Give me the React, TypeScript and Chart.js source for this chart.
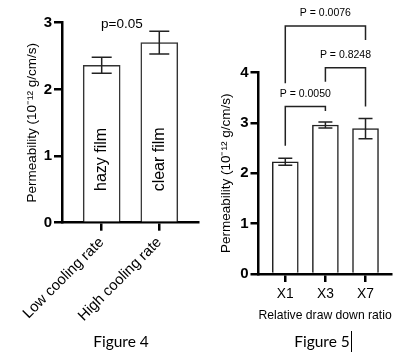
import React, { useEffect, useRef } from 'react';
import { Chart, registerables } from 'chart.js';

Chart.register(...registerables);
Chart.defaults.font.family = "'Liberation Sans', Arial, sans-serif";
Chart.defaults.color = '#000';

// ---------- Figure 4 data ----------
const fig4Categories = ['Low cooling rate', 'High cooling rate'];
const fig4Means = [2.36, 2.70];
const fig4Errors = [0.12, 0.17];
const fig4BarLabels = ['hazy film', 'clear film'];
const fig4YTicks = [0, 1, 2, 3];
const fig4PLabel = 'p=0.05';
const fig4PLabelX = 1.35; // in x data units
const fig4PLabelY = 2.98; // in y data units
const fig4BarLabelY = 0.95;

// ---------- Figure 5 data ----------
const fig5Categories = ['X1', 'X3', 'X7'];
const fig5Means = [2.23, 2.96, 2.89];
const fig5Errors = [0.07, 0.06, 0.2];
const fig5YTicks = [0, 1, 2, 3, 4];
const fig5BracketFrom = [0, 1, 0];
const fig5BracketTo = [1, 2, 2];
const fig5BracketLabels = ['P = 0.0050', 'P = 0.8248', 'P = 0.0076'];
const fig5BracketLevels = [3.33, 4.1, 4.93];
const fig5BracketLeftEnds = [2.55, 3.82, 3.79];
const fig5BracketRightEnds = [3.24, 3.33, 4.65];

const FONT = "'Liberation Sans', Arial, sans-serif";

function errorBarPlugin(errors: number[], cap: number) {
  return {
    id: 'errorBars',
    afterDatasetsDraw(chart: any) {
      const ctx = chart.ctx;
      const xs = chart.scales.x;
      const ys = chart.scales.y;
      const pts = chart.data.datasets[0].data as { x: number; y: number }[];
      ctx.save();
      ctx.strokeStyle = '#222';
      ctx.lineWidth = 1.5;
      pts.forEach((p, i) => {
        const x = xs.getPixelForValue(p.x);
        const yTop = ys.getPixelForValue(p.y + errors[i]);
        const yBot = ys.getPixelForValue(p.y - errors[i]);
        ctx.beginPath();
        ctx.moveTo(x, yTop);
        ctx.lineTo(x, yBot);
        ctx.moveTo(x - cap, yTop);
        ctx.lineTo(x + cap, yTop);
        ctx.moveTo(x - cap, yBot);
        ctx.lineTo(x + cap, yBot);
        ctx.stroke();
      });
      ctx.restore();
    },
  };
}

const fig4TextPlugin = {
  id: 'fig4Text',
  afterDraw(chart: any) {
    const ctx = chart.ctx;
    const xs = chart.scales.x;
    const ys = chart.scales.y;
    ctx.save();
    ctx.fillStyle = '#000';
    ctx.font = `13.5px ${FONT}`;
    ctx.textAlign = 'center';
    ctx.textBaseline = 'middle';
    ctx.fillText(fig4PLabel, xs.getPixelForValue(fig4PLabelX), ys.getPixelForValue(fig4PLabelY));
    ctx.font = `16px ${FONT}`;
    fig4BarLabels.forEach((t, i) => {
      ctx.save();
      ctx.translate(xs.getPixelForValue(i + 1), ys.getPixelForValue(fig4BarLabelY));
      ctx.rotate(-Math.PI / 2);
      ctx.fillText(t, 0, 0);
      ctx.restore();
    });
    ctx.restore();
  },
};

const fig5BracketPlugin = {
  id: 'fig5Brackets',
  afterDraw(chart: any) {
    const ctx = chart.ctx;
    const xs = chart.scales.x;
    const ys = chart.scales.y;
    ctx.save();
    ctx.strokeStyle = '#222';
    ctx.lineWidth = 1.5;
    ctx.fillStyle = '#000';
    ctx.font = `10.5px ${FONT}`;
    ctx.textAlign = 'center';
    ctx.textBaseline = 'middle';
    fig5BracketLabels.forEach((label, i) => {
      const x1 = xs.getPixelForValue(fig5BracketFrom[i] + 1);
      const x2 = xs.getPixelForValue(fig5BracketTo[i] + 1);
      const yl = ys.getPixelForValue(fig5BracketLevels[i]);
      ctx.beginPath();
      ctx.moveTo(x1, ys.getPixelForValue(fig5BracketLeftEnds[i]));
      ctx.lineTo(x1, yl);
      ctx.lineTo(x2, yl);
      ctx.lineTo(x2, ys.getPixelForValue(fig5BracketRightEnds[i]));
      ctx.stroke();
      ctx.fillText(label, (x1 + x2) / 2, yl - 12.4);
    });
    ctx.restore();
  },
};

const axisCommon = {
  grid: { display: true, drawOnChartArea: false, drawTicks: true, tickLength: 8, color: '#000', lineWidth: 2.5, offset: false },
  border: { display: true, color: '#000', width: 2.5 },
};

export default function App() {
  const ref4 = useRef<HTMLCanvasElement>(null);
  const ref5 = useRef<HTMLCanvasElement>(null);

  useEffect(() => {
    const c4 = new Chart(ref4.current as HTMLCanvasElement, {
      type: 'bar',
      data: {
        datasets: [
          {
            data: fig4Categories.map((_, i) => ({ x: i + 1, y: fig4Means[i] })),
            backgroundColor: '#fff',
            borderColor: '#333',
            borderWidth: 1.5,
            barThickness: 37,
          } as any,
        ],
      },
      options: {
        animation: false,
        responsive: false,
        devicePixelRatio: 1,
        layout: { padding: { top: 22.7, right: 11, left: 0, bottom: 0 } },
        plugins: { legend: { display: false }, tooltip: { enabled: false } },
        scales: {
          x: {
            type: 'linear',
            min: 0.311,
            max: 2.672,
            offset: false,
            afterBuildTicks: (s: any) => {
              s.ticks = fig4Categories.map((_, i) => ({ value: i + 1 }));
            },
            afterFit: (s: any) => {
              s.height = 140.3;
            },
            ticks: {
              autoSkip: false,
              minRotation: 45,
              maxRotation: 45,
              padding: 3,
              color: '#000',
              font: { size: 14.8 },
              callback: (v: any) => fig4Categories[Number(v) - 1] ?? '',
            },
            ...axisCommon,
          },
          y: {
            min: 0,
            max: 3,
            afterBuildTicks: (s: any) => {
              s.ticks = fig4YTicks.map((v) => ({ value: v }));
            },
            afterFit: (s: any) => {
              s.width = 62;
            },
            ticks: { padding: 2, color: '#000', font: { size: 15, weight: 'bold' } },
            title: {
              display: true,
              text: 'Permeability (10\u207B\u00B9\u00B2 g/cm/s)',
              color: '#000',
              font: { size: 13.5 },
              padding: { top: 24.4, bottom: 0 },
            },
            ...axisCommon,
          },
        },
      } as any,
      plugins: [errorBarPlugin(fig4Errors, 10), fig4TextPlugin],
    });

    const c5 = new Chart(ref5.current as HTMLCanvasElement, {
      type: 'bar',
      data: {
        datasets: [
          {
            data: fig5Categories.map((_, i) => ({ x: i + 1, y: fig5Means[i] })),
            backgroundColor: '#fff',
            borderColor: '#222',
            borderWidth: 1.5,
            barThickness: 26,
          } as any,
        ],
      },
      options: {
        animation: false,
        responsive: false,
        devicePixelRatio: 1,
        layout: { padding: { top: 72.7, right: 26.3, left: 0, bottom: 0 } },
        plugins: { legend: { display: false }, tooltip: { enabled: false } },
        scales: {
          x: {
            type: 'linear',
            min: 0.332,
            max: 3.653,
            offset: false,
            afterBuildTicks: (s: any) => {
              s.ticks = fig5Categories.map((_, i) => ({ value: i + 1 }));
            },
            afterFit: (s: any) => {
              s.height = 89;
            },
            ticks: {
              autoSkip: false,
              maxRotation: 0,
              minRotation: 0,
              padding: 4,
              color: '#000',
              font: { size: 13.8 },
              callback: (v: any) => fig5Categories[Number(v) - 1] ?? '',
            },
            title: {
              display: true,
              text: 'Relative draw down ratio',
              color: '#000',
              font: { size: 13.5 },
              padding: { top: 0, bottom: 39.2 },
            },
            ...axisCommon,
          },
          y: {
            min: 0,
            max: 4,
            afterBuildTicks: (s: any) => {
              s.ticks = fig5YTicks.map((v) => ({ value: v }));
            },
            afterFit: (s: any) => {
              s.width = 49.5;
            },
            ticks: { padding: 2, color: '#000', font: { size: 15, weight: 'bold' } },
            title: {
              display: true,
              text: 'Permeability (10\u207B\u00B9\u00B2 g/cm/s)',
              color: '#000',
              font: { size: 13.5 },
              padding: { top: 8.7, bottom: 0 },
            },
            ...axisCommon,
          },
        },
      } as any,
      plugins: [errorBarPlugin(fig5Errors, 7), fig5BracketPlugin],
    });

    return () => {
      c4.destroy();
      c5.destroy();
    };
  }, []);

  const captionStyle: React.CSSProperties = {
    position: 'absolute',
    top: 333,
    width: 100,
    textAlign: 'center',
    fontFamily: "Lato, 'Open Sans', sans-serif",
    fontSize: 15.5,
    lineHeight: '16px',
    color: '#000',
    whiteSpace: 'nowrap',
  };

  return (
    <div style={{ position: 'fixed', left: 0, top: 0, width: 418, height: 363, background: '#fff', overflow: 'hidden' }}>
      <canvas ref={ref4} width={209} height={363} style={{ position: 'absolute', left: 0, top: 0, width: 209, height: 363 }} />
      <canvas ref={ref5} width={209} height={363} style={{ position: 'absolute', left: 209, top: 0, width: 209, height: 363 }} />
      <div style={{ ...captionStyle, left: 71 }}>Figure 4</div>
      <div style={{ ...captionStyle, left: 272 }}>Figure 5</div>
      <div style={{ position: 'absolute', left: 351, top: 331, width: 1, height: 21, background: '#000' }} />
    </div>
  );
}
